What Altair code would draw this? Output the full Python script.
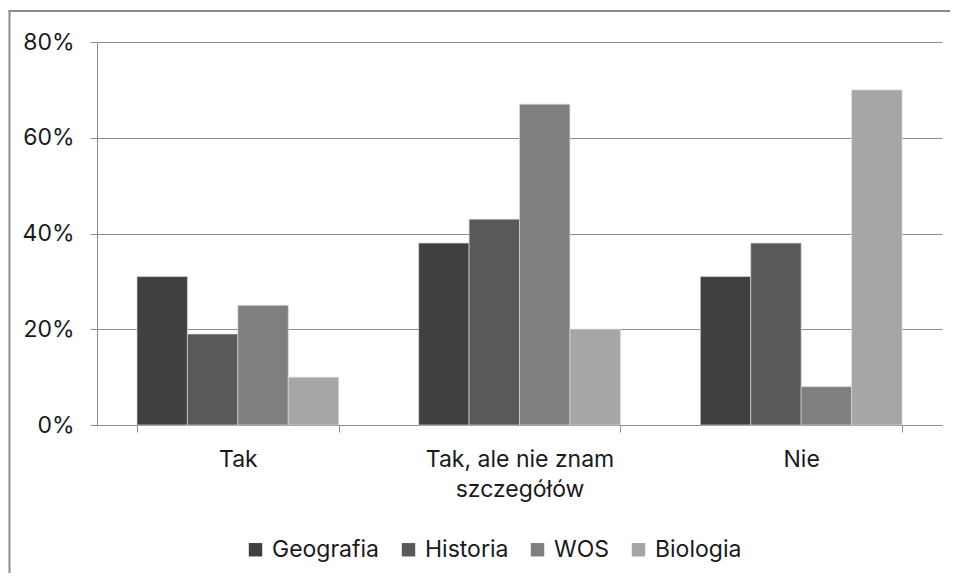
import altair as alt
import pandas as pd

categories = ["Tak", "Tak, ale nie znam szczegółów", "Nie"]
subjects = ["Geografia", "Historia", "WOS", "Biologia"]
geografia = [31, 38, 31]
historia = [19, 43, 38]
wos = [25, 67, 8]
biologia = [10, 20, 70]
colors = ["#404040", "#595959", "#7f7f7f", "#a6a6a6"]
y_ticks = [0, 0.2, 0.4, 0.6, 0.8]

rows = []
for s, vals in zip(subjects, [geografia, historia, wos, biologia]):
    for c, v in zip(categories, vals):
        rows.append({"kategoria": c, "przedmiot": s, "wartosc": v / 100})
df = pd.DataFrame(rows)

FONT = "Inter"
FS = 23
GRAY = "#8c8c8c"
label_expr = ("datum.value == 'Tak, ale nie znam szczegółów' ? "
              "['Tak, ale nie znam', 'szczegółów'] : datum.value")

frame = pd.DataFrame({"a": [0]})
left_edge = alt.Chart(frame).mark_rule(stroke=GRAY, strokeWidth=2).encode(
    x=alt.value(-87.5), y=alt.value(-32), y2=alt.value(700)
)
top_edge = alt.Chart(frame).mark_rule(stroke=GRAY, strokeWidth=2).encode(
    x=alt.value(-88.5), x2=alt.value(1200), y=alt.value(-31)
)

bars = alt.Chart(df).mark_bar(stroke="#d9d9d9", strokeWidth=0.7).encode(
    x=alt.X(
        "kategoria:N", sort=categories,
        scale=alt.Scale(paddingInner=0.284, paddingOuter=0.142),
        axis=alt.Axis(
            title=None, labelAngle=0, tickBand="extent", ticks=True, tickSize=7,
            tickColor=GRAY, domainColor=GRAY, labelFontSize=FS, labelFont=FONT,
            labelColor="#1a1a1a", labelPadding=16, labelExpr=label_expr,
            labelLineHeight=30, grid=False, labelBaseline="top", labelLimit=400,
        ),
    ),
    xOffset=alt.XOffset("przedmiot:N", sort=subjects),
    y=alt.Y(
        "wartosc:Q", scale=alt.Scale(domain=[0, 0.8]),
        axis=alt.Axis(
            title=None, format=".0%", values=y_ticks, grid=True, gridColor=GRAY,
            tickSize=7, tickColor=GRAY, domainColor=GRAY, labelFontSize=FS,
            labelFont=FONT, labelColor="#1a1a1a", labelPadding=16,
        ),
    ),
    color=alt.Color(
        "przedmiot:N", sort=subjects,
        scale=alt.Scale(domain=subjects, range=colors),
        legend=alt.Legend(
            title=None, orient="none", direction="horizontal",
            legendX=147, legendY=496, symbolType="square", symbolSize=180,
            symbolStrokeWidth=0, labelFontSize=FS, labelFont=FONT,
            labelColor="#1a1a1a", columnPadding=17, labelOffset=5,
        ),
    ),
)

chart = alt.layer(left_edge, top_edge, bars).properties(
    width=845, height=383, autosize="none",
    padding={"left": 89, "top": 34, "right": 8, "bottom": 148},
).configure_view(strokeWidth=0)

chart.save("out.html", embed_options={"renderer": "svg", "actions": False})
